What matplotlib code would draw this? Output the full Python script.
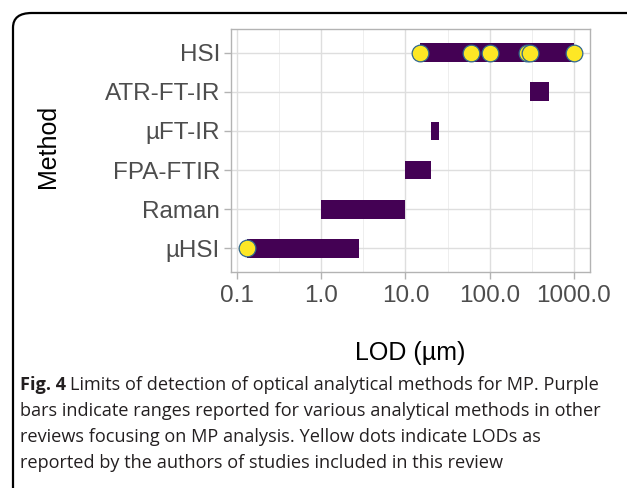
import matplotlib
matplotlib.use("Agg")
import matplotlib.pyplot as plt
from matplotlib.patches import FancyBboxPatch
import numpy as np

# data
methods = ["µHSI", "Raman", "FPA-FTIR", "µFT-IR", "ATR-FT-IR", "HSI"]
range_lo = [0.13, 1.0, 10.0, 20.0, 300.0, 15.0]
range_hi = [2.8, 10.0, 20.0, 25.0, 500.0, 1000.0]

dot_method = ["HSI", "HSI", "HSI", "HSI", "HSI", "HSI", "µHSI"]
dot_lod = [15.0, 60.0, 100.0, 280.0, 300.0, 1000.0, 0.13]

xticks = [0.1, 1.0, 10.0, 100.0, 1000.0]
xtick_labels = ["0.1", "1.0", "10.0", "100.0", "1000.0"]

caption_lines = [
    "Limits of detection of optical analytical methods for MP. Purple",
    "bars indicate ranges reported for various analytical methods in other",
    "reviews focusing on MP analysis. Yellow dots indicate LODs as",
    "reported by the authors of studies included in this review",
]

W, H = 627, 488
fig = plt.figure(figsize=(W / 100, H / 100), dpi=100)
fig.patch.set_facecolor("white")

# rounded frame around figure + caption
frame = FancyBboxPatch((13 / W, 1 - 13 / H - 1.2), 1.2, 1.2,
                       boxstyle="round,pad=0,rounding_size=0.03",
                       transform=fig.transFigure, fill=False,
                       edgecolor="black", linewidth=1.6, clip_on=False)
fig.patches.append(frame)

ax = fig.add_axes([231 / W, 1 - 272 / H, 359 / W, 243 / H])
ax.set_xscale("log")
ax.set_xlim(0.085, 1550)
ax.set_ylim(-0.6, 5.6)

ypos = {m: i for i, m in enumerate(methods)}

# grid like ggplot theme_light
for v in xticks:
    ax.axvline(v, color="#DEDEDE", lw=1.0, zorder=0)
for v in [10 ** -0.5, 10 ** 0.5, 10 ** 1.5, 10 ** 2.5]:
    ax.axvline(v, color="#EBEBEB", lw=0.6, zorder=0)
for i in range(len(methods)):
    ax.axhline(i, color="#DEDEDE", lw=1.0, zorder=0)

lefts = np.array(range_lo)
widths = np.array(range_hi) - lefts
ax.barh(range(len(methods)), widths, left=lefts, height=0.47,
        color="#440154", zorder=2)

ax.plot(dot_lod, [ypos[m] for m in dot_method], "o", ms=12,
        mfc="#FDE725", mec="#31688E", mew=0.9, zorder=3, ls="none")

ax.set_xticks(xticks)
ax.set_xticklabels(xtick_labels)
ax.xaxis.set_minor_locator(matplotlib.ticker.NullLocator())
ax.set_yticks(range(len(methods)))
ax.set_yticklabels(methods)

for s in ax.spines.values():
    s.set_color("#B3B3B3")
    s.set_linewidth(1.0)
ax.tick_params(axis="both", colors="#B3B3B3", length=5, width=1.0,
               labelcolor="#4D4D4D", labelsize=17.5)
ax.tick_params(axis="x", pad=4)
ax.tick_params(axis="y", pad=3)
for t in ax.get_xticklabels() + ax.get_yticklabels():
    t.set_family("Liberation Sans")

fig.text(48 / W, 1 - 146 / H, "Method", rotation=90, ha="center", va="center",
         fontsize=18, family="Liberation Sans", color="black")
fig.text(410 / W, 1 - 353 / H, "LOD (µm)", ha="center", va="center",
         fontsize=18, family="Liberation Sans", color="black")

# caption
cap_size = 13.1
y0 = 385
fig.canvas.draw()
renderer = fig.canvas.get_renderer()
bold = fig.text(20 / W, 1 - y0 / H, "Fig. 4", ha="left", va="center",
                fontsize=cap_size, family="Open Sans", weight="bold",
                color="#231F20")
bb = bold.get_window_extent(renderer)
fig.text((bb.x1 + 4) / W, 1 - y0 / H, caption_lines[0], ha="left", va="center",
         fontsize=cap_size, family="Open Sans", color="#231F20")
for k, line in enumerate(caption_lines[1:], start=1):
    fig.text(20 / W, 1 - (y0 + 26 * k) / H, line, ha="left", va="center",
             fontsize=cap_size, family="Open Sans", color="#231F20")

fig.savefig("out.png", dpi=100)
